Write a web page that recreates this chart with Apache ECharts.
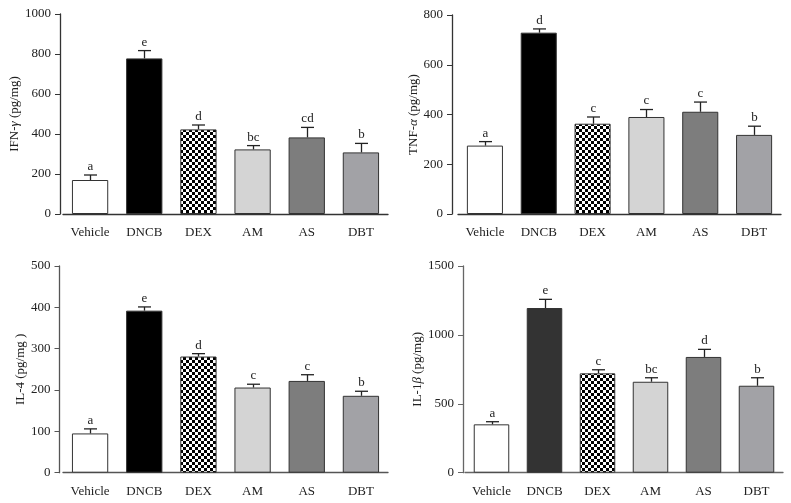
<!DOCTYPE html>
<html>
<head>
<meta charset="utf-8">
<script src="https://cdn.jsdelivr.net/npm/echarts@6/dist/echarts.min.js"></script>
<style>
html,body{margin:0;padding:0;background:#fff;}
#c{width:791px;height:503px;}
</style>
</head>
<body>
<div id="c"></div>
<script>
// ---- data ----
const categories = ['Vehicle', 'DNCB', 'DEX', 'AM', 'AS', 'DBT'];

const ifnMean = [170, 778, 423, 323, 383, 308];
const ifnSem = [25, 39, 22, 19, 50, 45];
const ifnLetters = ['a', 'e', 'd', 'bc', 'cd', 'b'];

const tnfMean = [275, 729, 363, 390, 411, 318];
const tnfSem = [16, 15, 27, 30, 39, 35];
const tnfLetters = ['a', 'd', 'c', 'c', 'c', 'b'];

const il4Mean = [95, 392, 281, 206, 222, 186];
const il4Sem = [11, 9, 7, 8, 15, 11];
const il4Letters = ['a', 'e', 'd', 'c', 'c', 'b'];

const il1bMean = [351, 1195, 721, 660, 840, 631];
const il1bSem = [19, 63, 26, 29, 55, 58];
const il1bLetters = ['a', 'e', 'c', 'bc', 'd', 'b'];

const ifnTicks = {max: 1000, interval: 200};
const tnfTicks = {max: 800, interval: 200};
const il4Ticks = {max: 500, interval: 100};
const il1bTicks = {max: 1500, interval: 500};

// ---- styling ----
const FONT = '"Liberation Serif", "DejaVu Serif", serif';
const pc = document.createElement('canvas');
pc.width = 6; pc.height = 6;
const pctx = pc.getContext('2d');
pctx.fillStyle = '#fff'; pctx.fillRect(0, 0, 6, 6);
pctx.fillStyle = '#000'; pctx.fillRect(0, 0, 3, 3); pctx.fillRect(3, 3, 3, 3);
const checker = {image: pc, repeat: 'repeat'};

function barColors(dncb) {
  return ['#ffffff', dncb, checker, '#d4d4d4', '#7d7d7d', '#a2a2a6'];
}

const panels = [
  {mean: ifnMean, sem: ifnSem, letters: ifnLetters, ticks: ifnTicks, greek: 'γ', pre: 'IFN-', post: ' (pg/mg)',
   grid: {left: 63, top: 14, width: 325, height: 200}, yOffset: 3, nameGap: 35, axisColor: '#333', dncb: '#000000'},
  {mean: tnfMean, sem: tnfSem, letters: tnfLetters, ticks: tnfTicks, greek: 'α', pre: 'TNF-', post: ' (pg/mg)',
   grid: {left: 458, top: 15, width: 323, height: 199}, yOffset: 6, nameGap: 26, axisColor: '#333', dncb: '#000000'},
  {mean: il4Mean, sem: il4Sem, letters: il4Letters, ticks: il4Ticks, greek: '', pre: 'IL-4', post: ' (pg/mg )',
   grid: {left: 63, top: 266, width: 325, height: 206.7}, yOffset: 3.5, nameGap: 32, axisColor: '#555', dncb: '#000000'},
  {mean: il1bMean, sem: il1bSem, letters: il1bLetters, ticks: il1bTicks, greek: 'β', pre: 'IL-1', post: ' (pg/mg)',
   grid: {left: 465, top: 266, width: 318, height: 206.7}, yOffset: 2, nameGap: 37, axisColor: '#666', dncb: '#333333'}
];

const option = {
  animation: false,
  backgroundColor: '#fff',
  grid: [], xAxis: [], yAxis: [], series: []
};

panels.forEach((p, i) => {
  option.grid.push(Object.assign({containLabel: false}, p.grid));
  option.xAxis.push({
    type: 'category', gridIndex: i, data: categories, boundaryGap: true,
    axisLine: {lineStyle: {color: p.axisColor, width: 1.3}},
    axisTick: {alignWithLabel: true, length: 5, lineStyle: {color: p.axisColor}},
    axisLabel: {color: '#222', fontFamily: FONT, fontSize: 13, margin: 12, interval: 0},
    splitLine: {show: false}
  });
  const nameStr = p.greek ? '{t|' + p.pre + '}{g|' + p.greek + '}{t|' + p.post + '}' : '{t|' + p.pre + p.post + '}';
  option.yAxis.push({
    type: 'value', gridIndex: i, min: 0, max: p.ticks.max, interval: p.ticks.interval,
    offset: p.yOffset,
    name: nameStr, nameLocation: 'middle', nameGap: p.nameGap,
    nameTextStyle: {
      rich: {
        t: {fontFamily: FONT, fontSize: 13, color: '#222'},
        g: {fontFamily: FONT, fontSize: 13, color: '#222', fontStyle: 'italic'}
      }
    },
    axisLine: {show: true, lineStyle: {color: p.axisColor, width: 1.3}},
    axisTick: {show: true, length: 5, lineStyle: {color: p.axisColor}},
    axisLabel: {color: '#222', fontFamily: FONT, fontSize: 13, margin: 9, formatter: v => String(v)},
    splitLine: {show: false}
  });
  const cols = barColors(p.dncb);
  option.series.push({
    type: 'bar', xAxisIndex: i, yAxisIndex: i,
    barCategoryGap: '33%',
    data: p.mean.map((v, k) => ({value: v, itemStyle: {color: cols[k]}})),
    itemStyle: {borderColor: '#333', borderWidth: 1}
  });
  option.series.push({
    type: 'custom', xAxisIndex: i, yAxisIndex: i, z: 5,
    data: p.mean.map((v, k) => [k, v, v + p.sem[k]]),
    renderItem: function (params, api) {
      const k = api.value(0);
      const lo = api.coord([k, api.value(1)]);
      const hi = api.coord([k, api.value(2)]);
      const x = Math.round(lo[0]) + 0.5;
      const ls = {stroke: '#222', lineWidth: 1.3};
      return {
        type: 'group',
        children: [
          {type: 'line', shape: {x1: x, y1: lo[1], x2: x, y2: hi[1]}, style: ls},
          {type: 'line', shape: {x1: x - 6.5, y1: hi[1], x2: x + 6.5, y2: hi[1]}, style: ls},
          {type: 'text', x: x, y: hi[1] - 2,
           style: {text: p.letters[k], fill: '#222', font: '13px ' + FONT, textAlign: 'center', textVerticalAlign: 'bottom'}}
        ]
      };
    }
  });
});

const chart = echarts.init(document.getElementById('c'), null, {renderer: 'canvas'});
chart.setOption(option);
</script>
</body>
</html>
